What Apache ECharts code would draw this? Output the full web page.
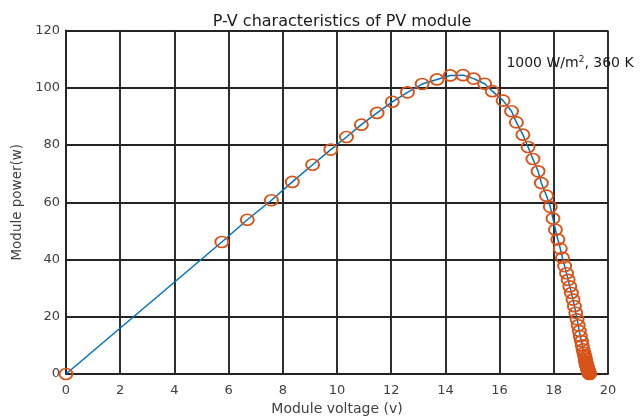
<!DOCTYPE html>
<html>
<head>
<meta charset="utf-8">
<title>P-V characteristics of PV module</title>
<script src="https://cdn.jsdelivr.net/npm/echarts@6/dist/echarts.min.js"></script>
<style>
  html, body { margin: 0; padding: 0; background: #fff; }
  #chart { width: 643px; height: 417px; }
</style>
</head>
<body>
<div id="chart"></div>
<script>
// module voltage (V) and power (W)
const voltage = [
  0, 5.75, 6.69, 7.58, 8.35, 9.1, 9.77, 10.35, 10.9, 11.48,
  12.04, 12.6, 13.14, 13.69, 14.18, 14.65, 15.04, 15.45, 15.73, 16.13,
  16.44, 16.62, 16.86, 17.05, 17.23, 17.42, 17.54, 17.73, 17.87, 17.97,
  18.06, 18.15, 18.24, 18.32, 18.4, 18.47, 18.53, 18.59, 18.65, 18.71,
  18.76, 18.81, 18.86, 18.9, 18.94, 18.98, 19.02, 19.05, 19.08, 19.11,
  19.13, 19.15, 19.16, 19.17, 19.18, 19.19, 19.2, 19.21, 19.22, 19.23,
  19.24, 19.25, 19.255, 19.26, 19.27, 19.275, 19.28, 19.285, 19.29, 19.3,
  19.305, 19.31, 19.315, 19.32
];
const power = [
  0, 46.1, 53.9, 60.7, 67.1, 73.1, 78.4, 82.8, 87.1, 91.2,
  95.1, 98.4, 101.3, 102.9, 104.3, 104.4, 103.2, 101.4, 98.8, 95.5,
  91.8, 87.9, 83.6, 79.3, 75.1, 70.8, 66.7, 62.3, 58.4, 54.3,
  50.4, 47.0, 43.8, 40.6, 37.7, 35.2, 32.9, 30.6, 28.3, 26.0,
  23.7, 21.4, 19.1, 17.0, 15.0, 13.2, 11.5, 10.0, 8.6, 7.4,
  6.6, 5.9, 5.3, 4.8, 4.3, 3.9, 3.5, 3.1, 2.8, 2.5,
  2.2, 1.9, 1.7, 1.5, 1.3, 1.1, 0.9, 0.75, 0.6, 0.45,
  0.3, 0.2, 0.1, 0
];
const xTicks = { min: 0, max: 20, step: 2 };
const yTicks = { min: 0, max: 120, step: 20 };

const chart = echarts.init(document.getElementById("chart"));
const points = voltage.map((v, i) => [v, power[i]]);

const gridColor = "#242424";
const labelColor = "#404040";
const font = "'DejaVu Sans', sans-serif";

chart.setOption({
  backgroundColor: "#fff",
  animation: false,
  title: {
    text: "P-V characteristics of PV module",
    left: 337,
    top: 9,
    textAlign: "center",
    textStyle: { fontFamily: font, fontSize: 16, fontWeight: "normal", color: "#1a1a1a" },
  },
  grid: { left: 66, right: 35, top: 30.5, bottom: 43, outerBoundsMode: "none", containLabel: false },
  xAxis: {
    type: "value",
    min: xTicks.min,
    max: xTicks.max,
    interval: xTicks.step,
    name: "Module voltage (v)",
    nameLocation: "middle",
    nameGap: 26,
    nameTextStyle: { fontFamily: font, fontSize: 14, color: labelColor },
    axisLine: { show: true, lineStyle: { color: gridColor, width: 1.9 } },
    axisTick: { show: false },
    axisLabel: { fontFamily: font, fontSize: 13, color: labelColor, margin: 10 },
    splitLine: { show: true, lineStyle: { color: gridColor, width: 1.9 } },
  },
  yAxis: {
    type: "value",
    min: yTicks.min,
    max: yTicks.max,
    interval: yTicks.step,
    name: "Module power(w)",
    nameLocation: "middle",
    nameGap: 41,
    nameTextStyle: { fontFamily: font, fontSize: 13.5, color: labelColor },
    axisLine: { show: true, lineStyle: { color: gridColor, width: 1.9 } },
    axisTick: { show: false },
    axisLabel: { fontFamily: font, fontSize: 13, color: labelColor, margin: 6 },
    splitLine: { show: true, lineStyle: { color: gridColor, width: 1.9 } },
  },
  series: [
    {
      name: "curve",
      type: "line",
      data: points,
      showSymbol: false,
      symbol: "none",
      lineStyle: { color: "#0072bd", width: 1.5 },
      z: 2,
    },
    {
      name: "points",
      type: "scatter",
      data: points,
      symbol: "circle",
      symbolSize: [13, 11],
      itemStyle: { color: "rgba(0,0,0,0)", borderColor: "#d95319", borderWidth: 1.8, opacity: 1 },
      z: 3,
    },
  ],
});

// irradiance / temperature label
const at = chart.convertToPixel({ gridIndex: 0 }, [16.25, 108.4]);
chart.setOption({
  graphic: [
    {
      type: "text",
      x: at[0],
      y: at[1],
      style: {
        text: "1000 W/m{sup|2}, 360 K",
        fontFamily: font,
        fontSize: 14,
        fill: "#1a1a1a",
        verticalAlign: "middle",
        rich: {
          sup: { fontFamily: font, fontSize: 9, fill: "#1a1a1a", verticalAlign: "top", lineHeight: 18 },
        },
      },
      z: 10,
    },
  ],
});
</script>
</body>
</html>
